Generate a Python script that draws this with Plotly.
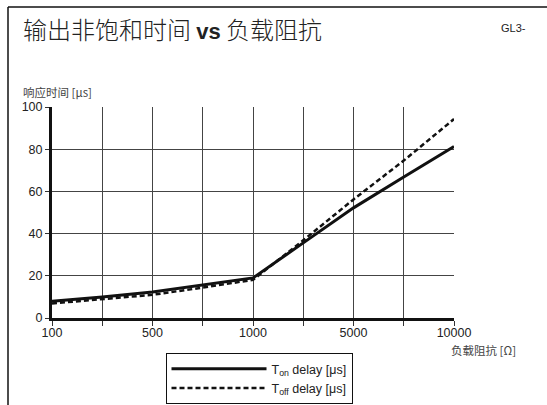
import plotly.graph_objects as go

# Data (x positions are evenly spaced steps on the load-impedance axis)
x_pos = [0, 1, 2, 3, 4, 5, 6, 7, 8]
tick_positions = [0, 2, 4, 6, 8]
tick_labels = ["100", "500", "1000", "5000", "10000"]
y_ticks = [0, 20, 40, 60, 80, 100]
t_on = [7.9, 9.9, 12.3, 15.6, 19.0, 35.6, 52.2, 66.8, 81.3]
t_off = [6.9, 8.9, 11.0, 14.4, 18.1, 36.8, 56.2, 74.6, 94.3]

# Layout geometry (pixels)
W, H = 547, 405
L, R, T, B = 52, 454, 107, 318
pw, ph = R - L, B - T


def px(x):
    return (x - L) / pw


def py(y):
    return (B - y) / ph


fig = go.Figure()
fig.add_trace(go.Scatter(
    x=x_pos, y=t_on, mode="lines", name="T<sub>on</sub> delay [μs]",
    line=dict(color="#111111", width=3)))
fig.add_trace(go.Scatter(
    x=x_pos, y=t_off, mode="lines", name="T<sub>off</sub> delay [μs]",
    line=dict(color="#111111", width=2.5, dash="5px,3px")))

grid = dict(color="#444", width=1)

fig.update_layout(
    width=W, height=H,
    margin=dict(l=L, r=W - R, t=T, b=H - B, pad=0, autoexpand=False),
    paper_bgcolor="white", plot_bgcolor="white",
    font=dict(family="Liberation Sans, Arial, sans-serif", color="#222"),
    showlegend=True,
    legend=dict(
        x=px(259), y=py(353), xanchor="center", yanchor="top",
        bordercolor="#111", borderwidth=1, bgcolor="white",
        font=dict(size=12.5, family="Liberation Sans, Arial, sans-serif", color="#222"),
        itemwidth=95, tracegroupgap=0,
    ),
    xaxis=dict(
        range=[0, 8], tickmode="array", tickvals=tick_positions, ticktext=tick_labels,
        showgrid=True, gridcolor=grid["color"], gridwidth=grid["width"],
        minor=dict(tickmode="linear", tick0=0, dtick=1, showgrid=True,
                   gridcolor=grid["color"], gridwidth=grid["width"],
                   ticks="outside", ticklen=5, tickcolor="#333", tickwidth=1),
        showline=True, linecolor="#111", linewidth=3,
        ticks="outside", ticklen=5, tickcolor="#333", tickwidth=1,
        ticklabelstandoff=-4,
        zeroline=False, tickfont=dict(size=12.5, color="#222"),
        fixedrange=True,
    ),
    yaxis=dict(
        range=[0, 100], tickmode="array", tickvals=y_ticks,
        showgrid=True, gridcolor=grid["color"], gridwidth=grid["width"],
        showline=True, linecolor="#111", linewidth=3,
        ticks="outside", ticklen=4, tickcolor="#333", tickwidth=1,
        zeroline=False, tickfont=dict(size=12.5, color="#222"),
        fixedrange=True,
    ),
    shapes=[
        # outer frame (top & left)
        dict(type="line", xref="paper", yref="paper",
             x0=px(8), x1=px(W + 2), y0=py(7), y1=py(7),
             line=dict(color="#111", width=1.5)),
        dict(type="line", xref="paper", yref="paper",
             x0=px(8), x1=px(8), y0=py(7), y1=py(H + 2),
             line=dict(color="#111", width=1.5)),
    ],
    annotations=[
        dict(xref="paper", yref="paper", x=px(21), y=py(29),
             xanchor="left", yanchor="middle", showarrow=False,
             text="输出非饱和时间 <b><span style='font-family:Liberation Sans, Arial;font-size:22px'>vs</span></b> 负载阻抗",
             font=dict(size=24, family="Noto Sans CJK SC", color="#222", weight=300)),
        dict(xref="paper", yref="paper", x=px(499), y=py(28),
             xanchor="left", yanchor="middle", showarrow=False,
             text="GL3-", font=dict(size=11, color="#222")),
        dict(xref="paper", yref="paper", x=px(21), y=py(92),
             xanchor="left", yanchor="middle", showarrow=False,
             text="响应时间 [μs]",
             font=dict(size=11.5, family="Noto Sans CJK SC, Liberation Sans", color="#444")),
        dict(xref="paper", yref="paper", x=px(518), y=py(350),
             xanchor="right", yanchor="middle", showarrow=False,
             text="负载阻抗 [Ω]",
             font=dict(size=11.5, family="Noto Sans CJK SC, Liberation Sans", color="#444")),
    ],
)

fig.write_html("out.html", config={"displayModeBar": False},
               post_script="document.body.style.margin='0';")
